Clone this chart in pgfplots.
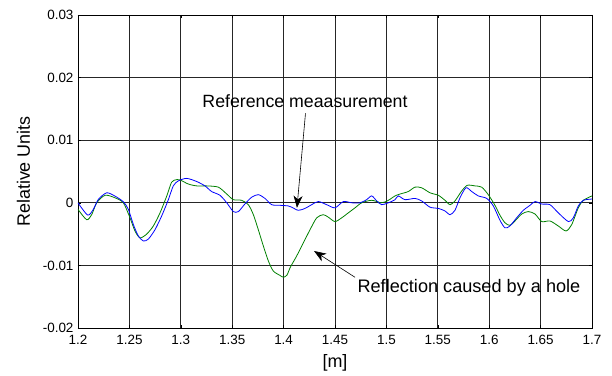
\documentclass[border=0pt]{standalone}
\usepackage{pgfplots}
\pgfplotsset{compat=1.18}
\usepackage{pgfplotstable}
\usepackage{fontspec}
\setmainfont{Liberation Sans}
\usetikzlibrary{arrows.meta}
\definecolor{mblue}{RGB}{0,0,255}
\definecolor{mgreen}{RGB}{0,128,0}

\pgfplotstableread{
x y
1.2000 0
1.2094 -0.00196
1.2149 -0.00105
1.2198 0.00054
1.2279 0.0016
1.2360 0.00107
1.2441 0.00016
1.2490 -0.00105
1.2538 -0.00345
1.2587 -0.0053
1.2636 -0.0061
1.2684 -0.0058
1.2749 -0.0043
1.2814 -0.0021
1.2879 0.0005
1.2927 0.0027
1.2976 0.0035
1.3057 0.0039
1.3155 0.0034
1.3235 0.0027
1.3300 0.0018
1.3381 0.0012
1.3447 0
1.3511 -0.0014
1.3560 -0.0014
1.3625 -0.00016
1.3690 0.0009
1.3754 0.0013
1.3819 0.0007
1.3884 -0.0003
1.3965 -0.0004
1.4046 -0.0005
1.4079 -0.0007
1.4143 -0.0012
1.4208 -0.0009
1.4273 -0.0003
1.4338 0.0002
1.4419 -0.0003
1.4500 -0.0008
1.4581 0.0002
1.4662 0
1.4743 0
1.4808 0.0005
1.4857 0.0011
1.4906 0.0003
1.4954 -0.0003
1.5019 0
1.5084 0.0005
1.5116 0.0011
1.5181 0.0005
1.5278 0.0007
1.5343 0.0003
1.5424 -0.0007
1.5505 -0.0009
1.5570 -0.0013
1.5619 -0.0019
1.5667 -0.0012
1.5716 0.0008
1.5774 0.0024
1.5830 0.0018
1.5894 0.0011
1.5976 0.0007
1.6040 -0.0005
1.6105 -0.0028
1.6154 -0.0040
1.6202 -0.0037
1.6267 -0.0024
1.6332 -0.0012
1.6397 -0.0004
1.6446 0.0002
1.6511 -0.0002
1.6591 -0.0003
1.6672 -0.0016
1.6770 -0.0030
1.6818 -0.0024
1.6867 -0.0005
1.6916 0.0004
1.7000 0.0006
}\refdata

\pgfplotstableread{
x y
1.2000 -0.00105
1.2084 -0.0027
1.2133 -0.0019
1.2182 0
1.2263 0.0012
1.2360 0.0008
1.2441 0
1.2506 -0.0024
1.2554 -0.0045
1.2603 -0.0056
1.2668 -0.0050
1.2733 -0.0037
1.2798 -0.0016
1.2863 0.00107
1.2911 0.0033
1.2960 0.0037
1.3000 0.0036
1.3073 0.0030
1.3155 0.0027
1.3252 0.0027
1.3365 0.0025
1.3447 0.0014
1.3511 0.0005
1.3592 0.0004
1.3657 -0.0003
1.3706 -0.0019
1.3754 -0.0043
1.3803 -0.0069
1.3852 -0.0093
1.3900 -0.0109
1.3965 -0.0116
1.4000 -0.0119
1.4035 -0.0115
1.4062 -0.0104
1.4127 -0.0085
1.4192 -0.0064
1.4257 -0.0043
1.4322 -0.0024
1.4386 -0.0019
1.4435 -0.0023
1.4500 -0.0030
1.4565 -0.0024
1.4630 -0.0016
1.4695 -0.0008
1.4760 0
1.4857 0.0004
1.4954 0
1.5019 0.0004
1.5084 0.0011
1.5132 0.0014
1.5213 0.0018
1.5278 0.0025
1.5343 0.0024
1.5424 0.0016
1.5505 0.0012
1.5570 0.0004
1.5619 -0.0003
1.5667 0.0003
1.5733 0.0019
1.5787 0.0028
1.5862 0.0027
1.5927 0.0025
1.5991 0.0013
1.6056 -0.0004
1.6105 -0.0020
1.6154 -0.0032
1.6202 -0.0036
1.6251 -0.0029
1.6316 -0.0018
1.6380 -0.0014
1.6446 -0.0018
1.6511 -0.0030
1.6591 -0.0029
1.6672 -0.0037
1.6747 -0.0045
1.6802 -0.0035
1.6867 -0.0008
1.6916 0.0004
1.7000 0.0011
}\holedata

\begin{document}
\begin{tikzpicture}
\path[use as bounding box] (-78bp,-48bp) rectangle (534bp,328bp);
\begin{axis}[
  at={(0,0)}, anchor=south west,
  scale only axis,
  width=514bp, height=313bp,
  xmin=1.2, xmax=1.7, ymin=-0.02, ymax=0.03,
  xtick={1.2,1.25,...,1.71},
  ytick={-0.02,-0.01,0,0.01,0.02,0.03},
  yticklabels={-0.02,-0.01,0,0.01,0.02,0.03},
  xticklabels={1.2,1.25,1.3,1.35,1.4,1.45,1.5,1.55,1.6,1.65,1.7},
  scaled y ticks=false,
  grid=major,
  major grid style={black!85, line width=0.65pt},
  axis line style={black, line width=0.8pt},
  tick style={black, line width=0.6pt},
  major tick length=3bp,
  tick pos=both, tick align=inside,
  ticklabel style={font=\fontsize{13.5}{16}\selectfont},
  xticklabel style={yshift=-3.5bp},
  yticklabel style={xshift=-1bp},
  /pgf/number format/assume math mode=true,
  xlabel={[m]},
  ylabel={Relative Units},
  label style={font=\fontsize{18}{21}\selectfont},
  xlabel style={at={(axis description cs:0.5,-0.112)}, anchor=center},
  ylabel style={at={(axis description cs:-0.106,0.5)}, anchor=center, rotate=0},
  clip=true,
]
\addplot[mgreen, line width=0.8pt, smooth, tension=0.45] table[x=x,y=y] {\holedata};
\addplot[mblue, line width=0.8pt, smooth, tension=0.45] table[x=x,y=y] {\refdata};
\node[font=\fontsize{17.8}{21}\selectfont, anchor=center] at (axis cs:1.4208,0.01625) {Reference meaasurement};
\draw[black, line width=0.6pt, -{Stealth[length=12bp,width=9bp,inset=3.5bp]}] (axis cs:1.4213,0.0143) -- (axis cs:1.4130,-0.0008);
\node[font=\fontsize{18.2}{21}\selectfont, anchor=center] at (axis cs:1.5803,-0.01358) {Reflection caused by a hole};
\draw[black, line width=0.6pt, -{Stealth[length=12bp,width=9bp,inset=3.5bp]}] (axis cs:1.4695,-0.0119) -- (axis cs:1.4296,-0.0077);
\end{axis}
\end{tikzpicture}
\end{document}
